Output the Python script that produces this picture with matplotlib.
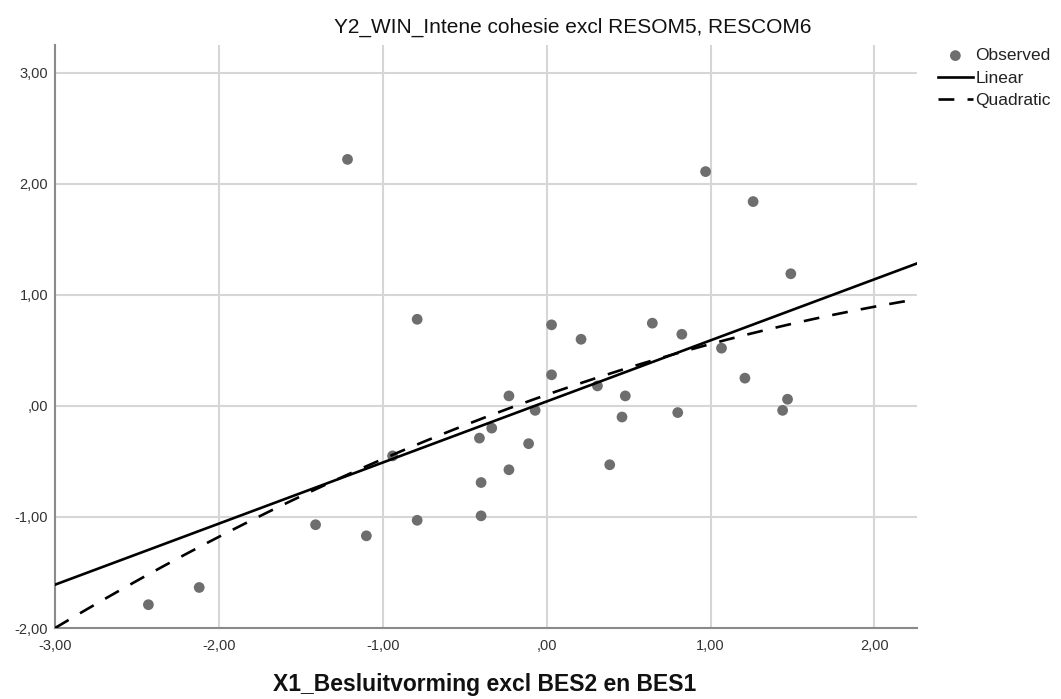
import matplotlib
matplotlib.use("Agg")
import matplotlib.pyplot as plt
import numpy as np

plt.rcParams['font.family'] = ['Liberation Sans', 'DejaVu Sans']

# Observed data
x_obs = [-2.43, -2.12, -1.41, -1.10, -1.215, -0.79, -0.79, -0.94,
         -0.41, -0.40, -0.40, -0.335, -0.23, -0.23, -0.11, -0.07,
         0.03, 0.03, 0.21, 0.31, 0.385, 0.46, 0.48, 0.645,
         0.80, 0.825, 0.97, 1.067, 1.21, 1.26, 1.44, 1.47, 1.49]
y_obs = [-1.79, -1.635, -1.07, -1.17, 2.22, 0.78, -1.03, -0.45,
         -0.29, -0.69, -0.99, -0.20, 0.09, -0.575, -0.34, -0.04,
         0.28, 0.73, 0.60, 0.18, -0.53, -0.10, 0.09, 0.745,
         -0.06, 0.645, 2.11, 0.52, 0.25, 1.84, -0.04, 0.06, 1.19]

# Fitted model coefficients
linear_coef = [0.04, 0.55]               # b0, b1
quadratic_coef = [0.10, 0.518, -0.0607]  # b0, b1, b2

x_ticks = [-3, -2, -1, 0, 1, 2]
x_tick_labels = ['-3,00', '-2,00', '-1,00', ',00', '1,00', '2,00']
y_ticks = [-2, -1, 0, 1, 2, 3]
y_tick_labels = ['-2,00', '-1,00', ',00', '1,00', '2,00', '3,00']

title = 'Y2_WIN_Intene cohesie excl RESOM5, RESCOM6'
xlabel = 'X1_Besluitvorming excl BES2 en BES1'

W, H = 1061, 699
fig = plt.figure(figsize=(W / 100, H / 100), dpi=100)
ax = fig.add_axes([55 / W, 1 - 628 / H, (917 - 55) / W, (628 - 45) / H])

xmin, xmax = -3.0, 2.26
ymin, ymax = -2.0, 3.25
ax.set_xlim(xmin, xmax)
ax.set_ylim(ymin, ymax)

grid_c = '#d6d6d6'
for t in x_ticks[1:]:
    ax.axvline(t, color=grid_c, lw=1.5, zorder=0)
for t in y_ticks[1:]:
    ax.axhline(t, color=grid_c, lw=1.5, zorder=0)

xs = np.linspace(xmin, xmax, 200)
y_lin = linear_coef[0] + linear_coef[1] * xs
y_quad = quadratic_coef[0] + quadratic_coef[1] * xs + quadratic_coef[2] * xs ** 2

ax.scatter(x_obs, y_obs, s=60, color='#6e6e6e', edgecolors='none', zorder=3,
           label='Observed', clip_on=False)
ax.plot(xs, y_lin, color='black', lw=1.9, zorder=4, label='Linear')
ax.plot(xs, y_quad, color='black', lw=1.9, dashes=(6, 5), zorder=4,
        label='Quadratic')

for s in ['top', 'right']:
    ax.spines[s].set_visible(False)
for s in ['left', 'bottom']:
    ax.spines[s].set_color('#8a8a8a')
    ax.spines[s].set_linewidth(1.5)

ax.set_xticks(x_ticks)
ax.set_xticklabels(x_tick_labels)
ax.set_yticks(y_ticks)
ax.set_yticklabels(y_tick_labels)
ax.tick_params(axis='both', length=0, labelsize=10.5, colors='#333333')
ax.tick_params(axis='x', pad=8)
ax.tick_params(axis='y', pad=5)

fig.text(573 / W, 1 - 27 / H, title, ha='center', va='center', fontsize=15,
         color='#111111')
fig.text(485 / W, 1 - 684 / H, xlabel, ha='center', va='center', fontsize=16.5,
         fontweight='bold', color='#111111')

leg = ax.legend(loc='upper left', bbox_to_anchor=(938 / W, 1 - 48 / H),
                bbox_transform=fig.transFigure, frameon=False, fontsize=12.5,
                handlelength=2.0, handletextpad=0.15, labelspacing=0.42,
                borderaxespad=0, borderpad=0)
for t in leg.get_texts():
    t.set_color('#222222')

fig.savefig('out.png', dpi=100)
